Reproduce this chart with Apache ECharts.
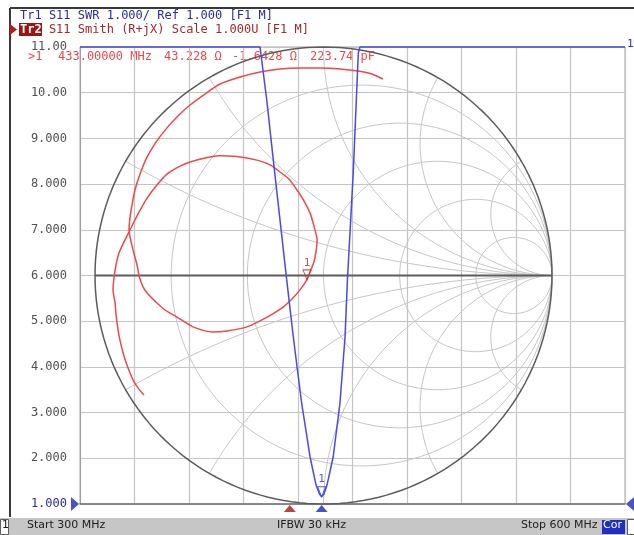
<!DOCTYPE html>
<html>
<head>
<meta charset="utf-8">
<script src="https://cdn.jsdelivr.net/npm/echarts@6/dist/echarts.min.js"></script>
<style>
    html, body { margin: 0; padding: 0; background: #fff; }
    #area { position: relative; width: 634px; height: 535px; }
    #grafico, #tracoSwr { position: absolute; left: 0; top: 0; width: 634px; height: 535px; }
    #tracoSwr { pointer-events: none; }
</style>
</head>
<body>
<div id="area">
    <div id="grafico"></div>
    <div id="tracoSwr"></div>
</div>
<script>
// Tr1 - SWR x frequencia (MHz), acima de 11 fica cortado no topo
let freqSwr  = [300, 330, 360, 399.1, 402.8, 406.4, 410.1, 413.8, 417.4, 422.0, 426.6, 429.9, 431.8, 433.0, 434.3, 436.0, 439.4, 443.1, 445.9, 447.2, 450.4, 453.2, 454.1, 510, 600];
let valorSwr = [11, 11, 11, 11, 9.84, 8.53, 7.21, 5.90, 4.66, 3.21, 2.04, 1.42, 1.22, 1.16, 1.22, 1.42, 2.04, 3.21, 4.66, 5.90, 8.24, 10.87, 11, 11, 11];

let gamaRe = [-0.786, -0.812, -0.834, -0.860, -0.877, -0.891, -0.899, -0.908, -0.912, -0.921, -0.917, -0.908, -0.895, -0.873, -0.847,
              -0.812, -0.772, -0.729, -0.685, -0.628, -0.584, -0.519, -0.460, -0.379, -0.291, -0.234, -0.190, -0.147, -0.116, -0.085,
              -0.059, -0.042, -0.028, -0.033, -0.042, -0.059, -0.073, -0.103, -0.138, -0.177, -0.247, -0.335, -0.422, -0.484, -0.571,
              -0.641, -0.694, -0.729, -0.768, -0.790, -0.807, -0.816, -0.829, -0.842, -0.851, -0.847, -0.838, -0.825, -0.803, -0.772,
              -0.733, -0.685, -0.637, -0.584, -0.519, -0.453, -0.365, -0.278, -0.190, -0.103, -0.015, 0.072, 0.151, 0.212, 0.260];
let gamaIm = [-0.523, -0.492, -0.457, -0.392, -0.339, -0.282, -0.239, -0.173, -0.120, -0.063, -0.011, 0.046, 0.098, 0.147, 0.199,
              0.269, 0.339, 0.396, 0.444, 0.479, 0.497, 0.514, 0.524, 0.521, 0.505, 0.484, 0.453, 0.418, 0.374, 0.326,
              0.274, 0.217, 0.155, 0.103, 0.059, 0.015, -0.019, -0.063, -0.103, -0.138, -0.182, -0.225, -0.243, -0.247, -0.225,
              -0.182, -0.151, -0.120, -0.081, -0.050, -0.002, 0.046, 0.094, 0.147, 0.199, 0.252, 0.309, 0.374, 0.444, 0.519,
              0.584, 0.646, 0.698, 0.746, 0.794, 0.838, 0.869, 0.891, 0.904, 0.908, 0.908, 0.904, 0.895, 0.882, 0.860];

// marcador 1
let freqMarcador = 433;
let resistMarcador = 43.228;
let reatMarcador = -1.6428;
let capMarcador = 223.74;
let z0 = 50;

// indicadores abaixo do eixo (MHz)
let indicadorTr2 = [415.5];
let indicadorTr1 = [433];

// eixos
let freqInicio = 300, freqFim = 600, passoFreq = 30;
let minSwr = 1, maxSwr = 11, passoSwr = 1;

// grade da carta de Smith
let circulosR = [0.2, 0.5, 1, 2, 5];
let angulosX = [30, 60, 90, 120, 150];

const MONO = "'DejaVu Sans Mono', monospace";
const SANS = "'DejaVu Sans', sans-serif";
const GRID_SWR = { left: 80, top: 47, width: 545, height: 457 };

function gama(r, x) {
    let d = (r + 1) * (r + 1) + x * x;
    return [(r * r - 1 + x * x) / d, 2 * x / d];
}

function circulo(cx, cy, raio) {
    let pts = [];
    for (let i = 0; i <= 180; i++) {
        let t = i / 180 * 2 * Math.PI;
        pts.push([cx + raio * Math.cos(t), cy + raio * Math.sin(t)]);
    }
    return pts;
}

function arcoX(x) {
    let pts = [];
    for (let i = 0; i <= 140; i++) {
        let r = i == 0 ? 0 : 0.004 * Math.pow(1.1, i);
        pts.push(gama(r, x));
    }
    return pts;
}

let series = [];

let linhaGrade = (dados, cor, largura) => ({
    type: "line",
    xAxisIndex: 1,
    yAxisIndex: 1,
    data: dados,
    symbol: "none",
    silent: true,
    clip: false,
    lineStyle: { color: cor, width: largura },
    z: 1
});

circulosR.forEach(r => series.push(linhaGrade(circulo(r / (1 + r), 0, 1 / (1 + r)), "#c6c6c6", 1)));
angulosX.forEach(a => {
    let x = 1 / Math.tan(a / 2 * Math.PI / 180);
    series.push(linhaGrade(arcoX(x), "#c6c6c6", 1));
    series.push(linhaGrade(arcoX(-x), "#c6c6c6", 1));
});
series.push(linhaGrade(circulo(0, 0, 1), "#5c5c5c", 1.5));
series.push(linhaGrade([[-1, 0], [1, 0]], "#5c5c5c", 1.8));

// traço Smith
series.push({
    type: "line",
    xAxisIndex: 1,
    yAxisIndex: 1,
    data: gamaRe.map((v, i) => [v, gamaIm[i]]),
    symbol: "none",
    smooth: 0.25,
    lineStyle: { color: "#f04848", width: 1.5 },
    z: 3
});

// marcadores
let gm = gama(resistMarcador / z0, reatMarcador / z0);
let swrMarcador = valorSwr[freqSwr.indexOf(freqMarcador)];

let marcador = (eixo, ponto, cor) => ({
    type: "scatter",
    xAxisIndex: eixo,
    yAxisIndex: eixo,
    data: [ponto],
    symbol: "path://M0 0L8 0L4 10Z",
    symbolSize: [8, 10],
    symbolOffset: [0, -5],
    clip: false,
    silent: true,
    itemStyle: { color: "rgba(255,255,255,0)", borderColor: cor, borderWidth: 1 },
    label: { show: true, formatter: "1", position: "top", distance: 1, color: cor, fontFamily: MONO, fontSize: 11 },
    z: 21
});

series.push(marcador(1, gm, "#b03030"));
series.push(marcador(0, [freqMarcador, swrMarcador], "#3030c8"));

let indicador = (dados, simbolo, tamanho, deslocamento, cor) => ({
    type: "scatter",
    xAxisIndex: 0,
    yAxisIndex: 0,
    data: dados,
    symbol: simbolo,
    symbolSize: tamanho,
    symbolOffset: deslocamento,
    clip: false,
    silent: true,
    itemStyle: { color: cor },
    z: 21
});

series.push(indicador(indicadorTr2.map(f => [f, minSwr]), "path://M0 7L6 0L12 7Z", [12, 7], [0, 4.5], "#a01818"));
series.push(indicador(indicadorTr1.map(f => [f, minSwr]), "path://M0 7L6 0L12 7Z", [12, 7], [0, 4.5], "#1c28b8"));
series.push(indicador([[freqInicio, minSwr]], "path://M0 0L8 7L0 14Z", [8, 14], [-5, 0], "#1c28b8"));
series.push(indicador([[freqFim, minSwr]], "path://M8 0L0 7L8 14Z", [8, 14], [5, 0], "#1c28b8"));

let textoLeitura = [
    { x: 28, t: ">1" },
    { x: 58, t: freqMarcador.toFixed(5) + " MHz" },
    { x: 164, t: resistMarcador.toFixed(3) + " Ω" },
    { x: 232, t: reatMarcador.toFixed(4) + " Ω" },
    { x: 310, t: capMarcador.toFixed(2) + " pF" }
];

let graficos = [
    // moldura
    { type: "line", shape: { x1: 10, y1: 8, x2: 634, y2: 8 }, style: { stroke: "#3a3a3a", lineWidth: 2 } },
    { type: "line", shape: { x1: 10, y1: 8, x2: 10, y2: 517 }, style: { stroke: "#3a3a3a", lineWidth: 2 } },
    // cabeçalho
    { type: "text", x: 20, y: 10, style: { text: "Tr1 S11 SWR 1.000/ Ref 1.000 [F1 M]", font: "12px " + MONO, fill: "#2a2aa8" } },
    { type: "polygon", shape: { points: [[10, 24], [17, 29.5], [10, 35]] }, style: { fill: "#c01818" } },
    { type: "rect", shape: { x: 19, y: 23, width: 23, height: 13 }, style: { fill: "#9c1414" } },
    { type: "text", x: 20, y: 23.5, style: { text: "Tr2", font: "bold 12px " + MONO, fill: "#ffffff" } },
    { type: "text", x: 20 + 4 * 7.22, y: 23.5, style: { text: "S11 Smith (R+jX) Scale 1.000U [F1 M]", font: "12px " + MONO, fill: "#a82828" } },
    // barra de status
    { type: "rect", shape: { x: 0, y: 518, width: 634, height: 17 }, style: { fill: "#c6c6c6" } },
    { type: "rect", shape: { x: 0.5, y: 519.5, width: 8, height: 15 }, style: { fill: "#ffffff", stroke: "#606060", lineWidth: 1 } },
    { type: "text", x: 2, y: 520, style: { text: "1", font: "11px " + SANS, fill: "#202020" } },
    { type: "text", x: 27, y: 520, style: { text: "Start " + freqInicio + " MHz", font: "11px " + SANS, fill: "#202020" } },
    { type: "text", x: 277, y: 520, style: { text: "IFBW 30 kHz", font: "11px " + SANS, fill: "#202020" } },
    { type: "text", x: 521, y: 520, style: { text: "Stop " + freqFim + " MHz", font: "11px " + SANS, fill: "#202020" } },
    { type: "rect", shape: { x: 602, y: 520, width: 23, height: 14 }, style: { fill: "#1e30c0" } },
    { type: "text", x: 603, y: 520, style: { text: "Cor", font: "11px " + SANS, fill: "#ffffff" } },
    { type: "rect", shape: { x: 627.5, y: 519.5, width: 8, height: 15 }, style: { fill: "#ffffff", stroke: "#606060", lineWidth: 1 } },
    // "1" do traço acima da escala
    { type: "text", x: 627, y: 39, style: { text: "1", font: "11px " + MONO, fill: "#3030c8" } }
];

textoLeitura.forEach(item => graficos.push({
    type: "text", x: item.x, y: 51,
    style: { text: item.t, font: "12px " + MONO, fill: "#f04848" }
}));

let grafico = echarts.init(document.getElementById("grafico"));

grafico.setOption({
    animation: false,
    backgroundColor: "#ffffff",
    grid: [
        Object.assign({ show: true, borderColor: "#a8a8a8", borderWidth: 1 }, GRID_SWR),
        { left: 95, top: 47, width: 457, height: 457 }
    ],
    xAxis: [
        {
            type: "value", gridIndex: 0, min: freqInicio, max: freqFim, interval: passoFreq,
            axisLine: { show: true, onZero: false, lineStyle: { color: "#707070", width: 1.5 } },
            axisTick: { show: false },
            axisLabel: { show: false },
            splitLine: { show: true, lineStyle: { color: "#c4c4c4", width: 1.2 } }
        },
        { type: "value", gridIndex: 1, min: -1, max: 1, show: false }
    ],
    yAxis: [
        {
            type: "value", gridIndex: 0, min: minSwr, max: maxSwr, interval: passoSwr,
            axisLine: { show: true, onZero: false, lineStyle: { color: "#a0a0a0" } },
            axisTick: { show: false },
            splitLine: { show: true, lineStyle: { color: "#c4c4c4", width: 1.2 } },
            axisLabel: {
                margin: 13,
                fontFamily: MONO,
                fontSize: 12,
                color: v => Number(v) === 1 ? "#2a2aa8" : "#505050",
                formatter: v => v >= 10 ? v.toFixed(2) : v.toFixed(3)
            }
        },
        { type: "value", gridIndex: 1, min: -1, max: 1, show: false }
    ],
    series: series,
    graphic: graficos
});

// traço SWR numa segunda instancia por cima (mesma grade e escala)
let graficoSwr = echarts.init(document.getElementById("tracoSwr"));

graficoSwr.setOption({
    animation: false,
    backgroundColor: "transparent",
    grid: GRID_SWR,
    xAxis: { type: "value", min: freqInicio, max: freqFim, interval: passoFreq, show: false },
    yAxis: { type: "value", min: minSwr, max: maxSwr, interval: passoSwr, show: false },
    series: [{
        type: "line",
        data: freqSwr.map((f, i) => [f, valorSwr[i]]),
        symbol: "none",
        clip: false,
        lineStyle: { color: "#4848f0", width: 1.5 }
    }]
});
</script>
</body>
</html>
